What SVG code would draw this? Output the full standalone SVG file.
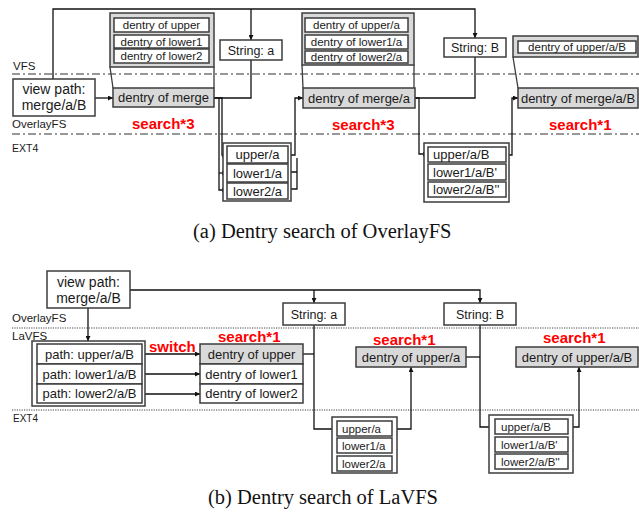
<svg xmlns="http://www.w3.org/2000/svg" width="639" height="512" viewBox="0 0 639 512">
<style>
.b{fill:#fff;stroke:#3c3c3c;stroke-width:1.5}
.g{fill:#d9d9d9;stroke:#3c3c3c;stroke-width:1.5}
.t{font-family:"Liberation Sans",Arial,sans-serif;fill:#1a1a1a;text-anchor:middle}
.l{text-anchor:start}
.f14{font-size:14px}.f13{font-size:13px}.f125{font-size:12.5px}.f115{font-size:11.5px}
.lay{font-family:"Liberation Sans",Arial,sans-serif;font-size:11.5px;fill:#1a1a1a}
.red{font-family:"Liberation Sans",Arial,sans-serif;font-size:15px;font-weight:bold;fill:#ff0000}
.cap{font-family:"Liberation Serif","Times New Roman",serif;font-size:20.5px;fill:#111}
.c{fill:none;stroke:#111;stroke-width:1.3}
.ca{fill:none;stroke:#111;stroke-width:1.3;marker-end:url(#ah)}
.dd{stroke:#333;stroke-width:1.2;stroke-dasharray:8 3 2 3}
.dt{stroke:#444;stroke-width:1.2;stroke-dasharray:1.2 1.2}
.z{fill:none;stroke:#3c3c3c;stroke-width:1.3}
</style>
<defs>
<marker id="ah" viewBox="0 0 6 6" refX="6" refY="3" markerWidth="5" markerHeight="5" markerUnits="userSpaceOnUse" orient="auto">
<path d="M0,0 L6,3 L0,6 z" fill="#111"/>
</marker>
</defs>
<rect width="639" height="512" fill="#fff"/>

<!-- layer lines and labels -->
<g id="layers">
<line class="dd" x1="12" y1="74" x2="639" y2="74"/>
<line class="dd" x1="12" y1="134" x2="639" y2="134"/>
<text class="lay" x="13" y="70">VFS</text>
<text class="lay" x="12" y="128">OverlayFS</text>
<text class="lay" x="12" y="152" style="font-size:10.5px">EXT4</text>
<line class="dt" x1="12" y1="328" x2="639" y2="328"/>
<line class="dt" x1="12" y1="410" x2="639" y2="410"/>
<text class="lay" x="12" y="322">OverlayFS</text>
<text class="lay" x="12" y="340">LaVFS</text>
<text class="lay" x="13" y="422" style="font-size:10px">EXT4</text>
</g>

<!-- connectors -->
<g id="connectors">
<path class="ca" d="M53,79 V9 H475 V38"/>
<path class="ca" d="M251,9 V40"/>
<path class="ca" d="M95,98 H113"/>
<path class="c" d="M251,60 V98 H214"/>
<path class="ca" d="M214,98 H222 V155 H227"/>
<path class="ca" d="M219,98 V190 H227"/>
<path class="ca" d="M219,173 H227"/>
<path class="ca" d="M288,155 H295 V98 H303"/>
<path class="c" d="M288,172 H297 M288,189 H297 V158"/>
<path class="ca" d="M415,98 H419 V154 H428"/>
<path class="c" d="M475,57 V98 H415"/>
<path class="ca" d="M506,155 H512 V98 H518"/>

<path class="ca" d="M130,290 H480 V303"/>
<path class="ca" d="M314,290 V303"/>
<path class="ca" d="M88,308 V341"/>
<path class="ca" d="M142,354 H200"/>
<path class="ca" d="M142,374 H200"/>
<path class="ca" d="M142,394 H200"/>
<path class="c" d="M303,354 H314"/>
<path class="ca" d="M314,325 V429 H337"/>
<path class="c" d="M466,357 H480"/>
<path class="ca" d="M480,325 V427 H495"/>
<path class="ca" d="M392,429 H411 V367"/>
<path class="ca" d="M568,427 H579 V367"/>
</g>

<!-- (a) nodes -->
<g id="a-viewpath">
<rect class="b" x="13" y="79" width="82" height="37"/>
<text class="t f14" x="54" y="94">view path:</text>
<text class="t f14" x="54" y="110">merge/a/B</text>
</g>
<g id="a-merge-detail">
<rect class="g" x="110" y="13" width="104" height="54"/>
<rect class="b" x="114" y="18" width="95" height="14"/>
<text class="t f115" x="161.5" y="29">dentry of upper</text>
<rect class="b" x="114" y="35" width="95" height="13"/>
<text class="t f115" x="161.5" y="45.5">dentry of lower1</text>
<rect class="b" x="114" y="49" width="95" height="14"/>
<text class="t f115" x="161.5" y="60">dentry of lower2</text>
<path class="z" d="M110,67 L113,88 M214,67 V88"/>
</g>
<g id="a-merge">
<rect class="g" x="113" y="88" width="101" height="19"/>
<text class="t f13" x="163.5" y="102">dentry of merge</text>
</g>
<g id="a-string-a">
<rect class="b" x="220" y="40" width="62" height="20"/>
<text class="t f125" x="251" y="54.5">String: a</text>
</g>
<g id="a-ext4-a">
<rect class="b" x="223" y="143" width="68" height="58"/>
<rect class="b" x="227" y="146" width="61" height="17"/>
<text class="t f13" x="257.5" y="159">upper/a</text>
<rect class="b" x="227" y="164" width="61" height="18"/>
<text class="t f13" x="257.5" y="177.5">lower1/a</text>
<rect class="b" x="227" y="183" width="61" height="16"/>
<text class="t f13" x="257.5" y="195.5">lower2/a</text>
</g>
<g id="a-mergea-detail">
<rect class="g" x="302" y="13" width="112" height="52"/>
<rect class="b" x="305" y="18" width="103" height="14"/>
<text class="t f115" x="356.5" y="29">dentry of upper/a</text>
<rect class="b" x="305" y="35" width="103" height="14"/>
<text class="t f115" x="356.5" y="46">dentry of lower1/a</text>
<rect class="b" x="305" y="51" width="103" height="12"/>
<text class="t f115" x="356.5" y="61">dentry of lower2/a</text>
<path class="z" d="M302,65 L303,88 M414,65 V88"/>
</g>
<g id="a-mergea">
<rect class="g" x="303" y="88" width="112" height="20"/>
<text class="t f13" x="359" y="102.5">dentry of merge/a</text>
</g>
<g id="a-string-b">
<rect class="b" x="444" y="38" width="62" height="19"/>
<text class="t f125" x="475" y="52">String: B</text>
</g>
<g id="a-ext4-b">
<rect class="b" x="424" y="143" width="85" height="59"/>
<rect class="b" x="428" y="147" width="78" height="15"/>
<text class="t f13 l" x="433" y="159">upper/a/B</text>
<rect class="b" x="428" y="164" width="78" height="16"/>
<text class="t f13 l" x="433" y="176.5">lower1/a/B'</text>
<rect class="b" x="428" y="182" width="78" height="15"/>
<text class="t f13 l" x="433" y="194">lower2/a/B''</text>
</g>
<g id="a-mergeab-detail">
<rect class="g" x="513" y="36" width="125" height="21"/>
<rect class="b" x="518" y="41" width="118" height="12"/>
<text class="t f115" x="577" y="51">dentry of upper/a/B</text>
<path class="z" d="M513,57 L518,88"/>
</g>
<g id="a-mergeab">
<rect class="g" x="518" y="88" width="120" height="20"/>
<text class="t f13" x="578" y="102.5">dentry of merge/a/B</text>
</g>
<g id="a-labels">
<text class="red" x="132" y="129">search*3</text>
<text class="red" x="332" y="130">search*3</text>
<text class="red" x="549" y="130">search*1</text>
<text class="cap" x="193" y="238">(a)  Dentry search of OverlayFS</text>
</g>

<!-- (b) nodes -->
<g id="b-viewpath">
<rect class="b" x="47" y="271" width="83" height="37"/>
<text class="t f14" x="88.5" y="287">view path:</text>
<text class="t f14" x="88.5" y="303">merge/a/B</text>
</g>
<g id="b-string-a">
<rect class="b" x="283" y="303" width="62" height="22"/>
<text class="t f125" x="314" y="318.5">String: a</text>
</g>
<g id="b-string-b">
<rect class="b" x="444" y="303" width="72" height="22"/>
<text class="t f125" x="480" y="318.5">String: B</text>
</g>
<g id="b-paths">
<rect class="b" x="32" y="341" width="113" height="65"/>
<rect class="b" x="37" y="344" width="105" height="20"/>
<text class="t f13" x="89.5" y="358.5">path: upper/a/B</text>
<rect class="b" x="37" y="364" width="105" height="20"/>
<text class="t f13" x="89.5" y="378.5">path: lower1/a/B</text>
<rect class="b" x="37" y="384" width="105" height="19"/>
<text class="t f13" x="89.5" y="398">path: lower2/a/B</text>
</g>
<g id="b-dentries">
<rect class="g" x="200" y="344" width="103" height="20"/>
<text class="t f13" x="251.5" y="358.5">dentry of upper</text>
<rect class="b" x="200" y="364" width="103" height="20"/>
<text class="t f13" x="251.5" y="378.5">dentry of lower1</text>
<rect class="b" x="200" y="384" width="103" height="19"/>
<text class="t f13" x="251.5" y="398">dentry of lower2</text>
</g>
<g id="b-uppera">
<rect class="g" x="356" y="347" width="110" height="20"/>
<text class="t f13" x="411" y="361.5">dentry of upper/a</text>
</g>
<g id="b-upperab">
<rect class="g" x="516" y="347" width="122" height="20"/>
<text class="t f13" x="577" y="361.5">dentry of upper/a/B</text>
</g>
<g id="b-ext4-a">
<rect class="b" x="332" y="417" width="65" height="56"/>
<rect class="b" x="337" y="421" width="55" height="15"/>
<text class="t f115 l" x="342" y="433">upper/a</text>
<rect class="b" x="337" y="438" width="55" height="15"/>
<text class="t f115 l" x="342" y="449.5">lower1/a</text>
<rect class="b" x="337" y="456" width="55" height="15"/>
<text class="t f115 l" x="342" y="467.5">lower2/a</text>
</g>
<g id="b-ext4-b">
<rect class="b" x="489" y="415" width="84" height="58"/>
<rect class="b" x="495" y="419" width="73" height="15"/>
<text class="t f115 l" x="501" y="431">upper/a/B</text>
<rect class="b" x="495" y="437" width="73" height="15"/>
<text class="t f115 l" x="501" y="448.5">lower1/a/B'</text>
<rect class="b" x="495" y="454" width="73" height="15"/>
<text class="t f115 l" x="501" y="465.5">lower2/a/B''</text>
</g>
<g id="b-labels">
<text class="red" x="149" y="352">switch</text>
<text class="red" x="218" y="342">search*1</text>
<text class="red" x="373" y="345">search*1</text>
<text class="red" x="543" y="343">search*1</text>
<text class="cap" x="208" y="504">(b)  Dentry search of LaVFS</text>
</g>
</svg>
